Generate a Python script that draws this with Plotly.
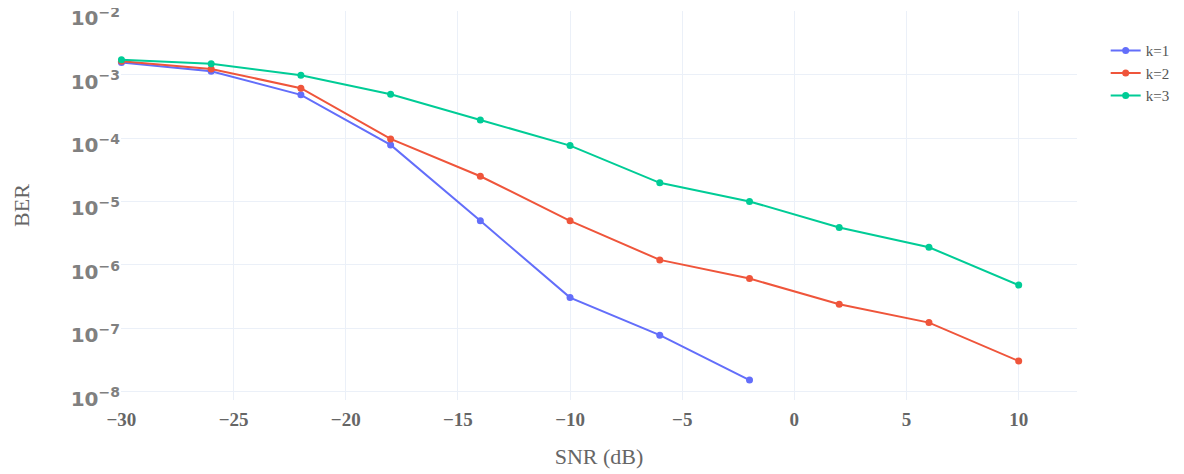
import plotly.graph_objects as go

snr = [-30, -26, -22, -18, -14, -10, -6, -2, 2, 6, 10]
ber_k1 = [1.55e-3, 1.13e-3, 4.8e-4, 7.8e-5, 4.95e-6, 3.05e-7, 7.8e-8, 1.53e-8]
ber_k2 = [1.62e-3, 1.23e-3, 6.1e-4, 9.7e-5, 2.5e-5, 4.95e-6, 1.2e-6, 6.1e-7, 2.4e-7, 1.23e-7, 3.05e-8]
ber_k3 = [1.71e-3, 1.48e-3, 9.75e-4, 4.9e-4, 1.93e-4, 7.6e-5, 1.97e-5, 1.0e-5, 3.9e-6, 1.9e-6, 4.8e-7]
names = ["k=1", "k=2", "k=3"]
colors = ["#636efa", "#EF553B", "#00cc96"]

fig = go.Figure()
for name, ys, c in zip(names, [ber_k1, ber_k2, ber_k3], colors):
    fig.add_trace(go.Scatter(x=snr[:len(ys)], y=ys, mode="lines+markers", name=name,
                             cliponaxis=False,
                             line=dict(color=c, width=2), marker=dict(color=c, size=7)))

serif = "Liberation Serif, Times New Roman, serif"
fig.update_layout(
    template="plotly_white",
    width=1184, height=474,
    margin=dict(l=113, r=115, t=3, b=82),
    font=dict(family=serif, color="#666666", size=15),
    legend=dict(x=1.03, y=0.94, xanchor="left", yanchor="top",
                font=dict(family=serif, size=15, color="#555555")),
    xaxis=dict(title=dict(text="SNR (dB)", font=dict(size=22, family=serif, color="#666666"), standoff=19),
               range=[-30.02, 12.6], dtick=5, tick0=0, ticklabelstandoff=6,
               tickfont=dict(family=serif, size=19, color="#666666", weight="bold"),
               showline=False, zeroline=False, gridcolor="#EBF0F8"),
    yaxis=dict(title=dict(text="BER", font=dict(size=22, family=serif, color="#666666"), standoff=34),
               type="log", range=[-8.13, -1.997], dtick=1, exponentformat="power",
               automargin="left",
               ticklabeloverflow="allow", ticklabelshift=7,
               tickfont=dict(family="DejaVu Sans, sans-serif", size=16, color="#808080", weight="bold"),
               showline=False, zeroline=False, gridcolor="#EBF0F8"),
)
fig.write_html("out.html")
